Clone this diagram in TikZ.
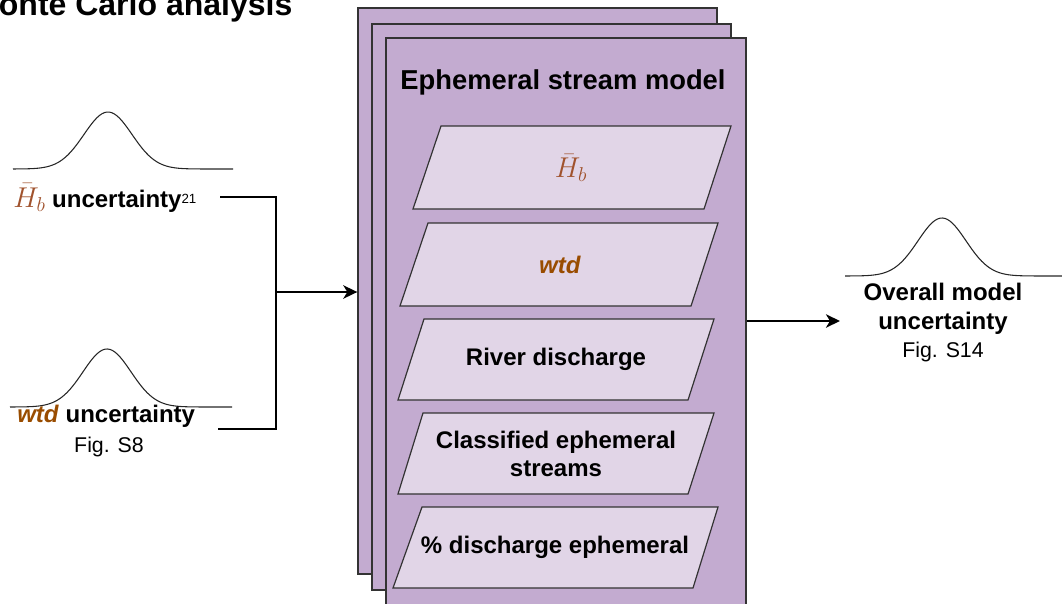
\RequirePackage{fix-cm}
\documentclass[tikz,border=0pt]{standalone}
\usepackage{fontspec}
\setmainfont{Liberation Sans}
\usetikzlibrary{arrows.meta,fit}
\definecolor{stackfill}{HTML}{C3ABD0}
\definecolor{parafill}{HTML}{E1D5E7}
\definecolor{edgecol}{HTML}{333333}
\definecolor{brn}{HTML}{994C00}
\definecolor{brnm}{HTML}{A0522D}
\newcommand{\hbsym}{{\fontsize{21.5}{24}\selectfont$\bar{H}_b$}}
\begin{document}
\begin{tikzpicture}[x=0.75pt,y=-0.75pt,
  stackbox/.style={draw=edgecol, fill=stackfill, line width=1pt, inner sep=0pt},
  para/.style={draw=edgecol, fill=parafill, line width=0.9pt},
  conn/.style={line width=1.8pt, draw=black},
  arr/.style={conn, -{Stealth[length=10.5pt, width=10pt, inset=3pt]}},
  bell/.style={line width=0.8pt, draw=black!85, smooth},
  lbl/.style={font=\fontsize{18}{21}\selectfont\bfseries, inner sep=0pt},
  ptxt/.style={font=\fontsize{18}{21}\selectfont\bfseries, inner sep=0pt, align=center},
  smalltxt/.style={font=\fontsize{16}{19}\selectfont, inner sep=0pt}]
\useasboundingbox (0,0) rectangle (1062,603);
\clip (0,0) rectangle (1062,603);

% title
\node[font=\fontsize{24}{28}\selectfont\bfseries, anchor=base west, inner sep=0pt] (mc) at (-28,15) {Monte Carlo analysis};

% stacked model boxes
\node[stackbox, fit={(358,8) (717,574)}] (back) {};
\node[stackbox, fit={(372,24) (731,590)}] (mid) {};
\node[stackbox, fit={(386,38) (746,640)}] (front) {};
\node[font=\fontsize{20.5}{24}\selectfont\bfseries, anchor=base, inner sep=0pt] (esm) at (563,89) {Ephemeral stream model};

% parallelograms
\draw[para] (441,126) -- (731,126) -- (704,209) -- (413,209) -- cycle;
\draw[para] (428,223) -- (718,223) -- (691,306) -- (400,306) -- cycle;
\draw[para] (424,319) -- (714,319) -- (688,400) -- (398,400) -- cycle;
\draw[para] (423,413) -- (714,413) -- (688,494) -- (398,494) -- cycle;
\draw[para] (422,507) -- (718,507) -- (693,588) -- (393,588) -- cycle;
\node[ptxt] (p1) at (571,168) {\textcolor{brnm}{\hbsym}};
\node[ptxt] (p2) at (560,265) {\textcolor{brn}{\textit{wtd}}};
\node[ptxt] (p3) at (556,359.5) {River discharge};
\node[ptxt] (p4) at (556,453.5) {Classified ephemeral\\streams};
\node[ptxt] (p5) at (555,547.5) {\% discharge ephemeral};

% bell curves
\draw[bell, domain=13:233, samples=90] plot (\x, {169-57*exp(-((\x-108)^2)/(2*24*24))});
\draw[bell, domain=10:232, samples=90] plot (\x, {407-58*exp(-((\x-107)^2)/(2*24*24))});
\draw[bell, domain=845:1062, samples=90] plot (\x, {276-58*exp(-((\x-942)^2)/(2*24*24))});

% left labels
\node[lbl, anchor=base west] (hbl) at (13,207) {\textcolor{brnm}{\hbsym} uncertainty\raisebox{3pt}{\fontsize{10}{12}\mdseries\selectfont 21}};
\node[lbl, anchor=base west] (wtdl) at (17,422) {\textcolor{brn}{\textit{wtd}} uncertainty};
\node[smalltxt, anchor=base] (fig8) at (109,452) {Fig. S8};

% right labels
\node[lbl, anchor=base] (ov1) at (943,300) {Overall model};
\node[lbl, anchor=base] (ov2) at (943,329) {uncertainty};
\node[smalltxt, anchor=base] (fig14) at (943,357) {Fig. S14};

% connectors
\coordinate (hbend) at (220,197);
\coordinate (wtdend) at (218,429);
\coordinate (junc) at (276,292);
\coordinate (outpt) at (840,321);
\draw[conn] (hbend) -| (wtdend -| junc) -- (wtdend);
\draw[arr] (junc) -- (junc -| back.west);
\draw[arr] (outpt -| front.east) -- (outpt);
\end{tikzpicture}
\end{document}
